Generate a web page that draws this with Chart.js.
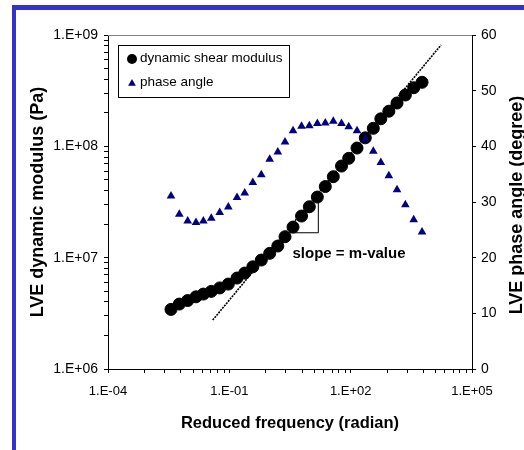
<!DOCTYPE html>
<html>
<head>
<meta charset="utf-8">
<script src="https://cdn.jsdelivr.net/npm/chart.js@4.4.1/dist/chart.umd.min.js"></script>
<style>
  html, body { margin: 0; padding: 0; background: #ffffff; }
  #wrap { width: 524px; height: 450px; }
</style>
</head>
<body>
<div id="wrap"><canvas id="c" width="524" height="450"></canvas></div>
<script>
// ---------------- data ----------------
const frequency = [3.61e-3, 5.79e-3, 9.35e-3, 0.0150, 0.0228, 0.0358, 0.0578, 0.0944,
  0.155, 0.240, 0.381, 0.618, 0.995, 1.58, 2.38, 3.76, 6.10, 9.51, 15.0, 23.6, 37.2,
  59.4, 89.5, 143.5, 230, 363, 557, 879, 1400, 2250, 3620, 5820];
const modulus = [3.43e6, 3.83e6, 4.12e6, 4.45e6, 4.71e6, 4.98e6, 5.35e6, 5.79e6,
  6.56e6, 7.27e6, 8.28e6, 9.52e6, 1.093e7, 1.272e7, 1.541e7, 1.883e7, 2.365e7,
  2.866e7, 3.504e7, 4.353e7, 5.333e7, 6.65e7, 7.80e7, 9.65e7, 1.192e8, 1.451e8,
  1.767e8, 2.068e8, 2.449e8, 2.890e8, 3.361e8, 3.758e8];
const phaseAngle = [31.1, 27.8, 26.6, 26.3, 26.6, 27.1, 28.1, 29.1, 30.8, 31.6, 33.5,
  34.9, 37.7, 39.0, 40.8, 42.8, 43.6, 43.7, 44.1, 44.2, 44.5, 44.1, 43.5, 42.8, 41.3,
  39.1, 37.1, 34.7, 32.2, 29.5, 26.8, 24.6];

// power-law slope line (straight on log-log axes)
const slopeLineFreq = [0.0388, 17140];
const slopeLineModulus = [2.75e6, 8.13e8];
// right-angle "slope" marker
const slopeLegFreq = [2.38, 15.86, 15.86];
const slopeLegModulus = [1.674e7, 1.674e7, 3.82e7];
const slopeLabel = 'slope = m-value';
const slopeLabelAt = [91, 1.077e7];

const seriesNames = ['dynamic shear modulus', 'phase angle'];

// tick values and labels
const xMajorTicks = [1e-4, 1e-1, 1e2, 1e5];
const xMajorLabels = ['1.E-04', '1.E-01', '1.E+02', '1.E+05'];
const xMinorMultipliers = [8, 25, 63, 128, 214, 350, 500, 750];
const yMajorTicks = [1e6, 1e7, 1e8, 1e9];
const yMajorLabels = ['1.E+06', '1.E+07', '1.E+08', '1.E+09'];
const yMinorMultipliers = [2, 3, 4, 5, 6, 7, 8, 9];
const y2Ticks = [0, 10, 20, 30, 40, 50, 60];

const axisTitles = {
  x: 'Reduced frequency (radian)',
  y: 'LVE dynamic modulus (Pa)',
  y2: 'LVE phase angle (degree)'
};

// ---------------- helpers ----------------
function labelFor(value, majors, labels) {
  for (let i = 0; i < majors.length; i++) {
    if (Math.abs(Math.log10(value) - Math.log10(majors[i])) < 1e-6) return labels[i];
  }
  return '';
}
function buildLogTicks(majors, mult) {
  const out = [];
  for (let i = 0; i < majors.length; i++) {
    out.push({ value: majors[i], major: true });
    if (i < majors.length - 1) mult.forEach(m => out.push({ value: majors[i] * m, major: false }));
  }
  return out;
}

const FONT = '"Liberation Sans", Arial, Helvetica, sans-serif';

const framePlugin = {
  id: 'frame',
  beforeDraw(chart) {
    const ctx = chart.ctx;
    ctx.save();
    ctx.fillStyle = '#ffffff';
    ctx.fillRect(0, 0, chart.width, chart.height);
    ctx.fillStyle = '#3333cc';
    ctx.fillRect(12, 5, chart.width - 12, 5);
    ctx.fillRect(12, 5, 4, chart.height - 5);
    ctx.restore();
  },
  afterDatasetsDraw(chart) {
    const ctx = chart.ctx;
    const a = chart.chartArea;
    const xs = chart.scales.x, ys = chart.scales.y;
    ctx.save();
    // plot-area top border (grey)
    ctx.strokeStyle = '#808080';
    ctx.lineWidth = 1;
    ctx.beginPath();
    ctx.moveTo(a.left, a.top + 0.5);
    ctx.lineTo(a.right, a.top + 0.5);
    ctx.stroke();
    // slope annotation text
    ctx.fillStyle = '#000';
    ctx.font = 'bold 15px ' + FONT;
    ctx.textAlign = 'center';
    ctx.textBaseline = 'middle';
    ctx.fillText(slopeLabel, xs.getPixelForValue(slopeLabelAt[0]), ys.getPixelForValue(slopeLabelAt[1]));
    ctx.restore();
  },
  afterDraw(chart) {
    const ctx = chart.ctx;
    const a = chart.chartArea;
    ctx.save();
    // right axis title, reading bottom to top
    ctx.translate(517, (a.top + a.bottom) / 2 + 3);
    ctx.rotate(-Math.PI / 2);
    ctx.font = 'bold 18px ' + FONT;
    ctx.fillStyle = '#000';
    ctx.textAlign = 'center';
    ctx.textBaseline = 'middle';
    ctx.fillText(axisTitles.y2, 0, 0);
    ctx.restore();

    // legend box
    ctx.save();
    const bx = a.left + 10.5, by = a.top + 10.5, bw = 171, bh = 52;
    ctx.fillStyle = '#ffffff';
    ctx.fillRect(bx, by, bw, bh);
    ctx.strokeStyle = '#000';
    ctx.lineWidth = 1;
    ctx.strokeRect(bx, by, bw, bh);
    const ds0 = chart.data.datasets[1]; // modulus
    const ds1 = chart.data.datasets[0]; // phase angle
    // circle marker
    ctx.fillStyle = ds0.backgroundColor;
    ctx.beginPath();
    ctx.arc(bx + 13.5, by + 13.5, 5, 0, Math.PI * 2);
    ctx.fill();
    // triangle marker
    ctx.fillStyle = ds1.backgroundColor;
    const tx = bx + 13.5, ty = by + 38, r = 4.5;
    ctx.beginPath();
    ctx.moveTo(tx, ty - r);
    ctx.lineTo(tx + r * 0.866, ty + r * 0.5);
    ctx.lineTo(tx - r * 0.866, ty + r * 0.5);
    ctx.closePath();
    ctx.fill();
    ctx.fillStyle = '#000';
    ctx.font = '13.5px ' + FONT;
    ctx.textAlign = 'left';
    ctx.textBaseline = 'middle';
    ctx.fillText(seriesNames[0], bx + 21.5, by + 13);
    ctx.fillText(seriesNames[1], bx + 21.5, by + 36.5);
    ctx.restore();
  }
};

const chart = new Chart(document.getElementById('c'), {
  type: 'scatter',
  data: {
    datasets: [
      {
        label: seriesNames[1],
        data: frequency.map((f, i) => ({ x: f, y: phaseAngle[i] })),
        yAxisID: 'y2',
        pointStyle: 'triangle',
        pointRadius: 5,
        borderWidth: 0,
        backgroundColor: '#000080',
        borderColor: '#000080',
        showLine: false
      },
      {
        label: seriesNames[0],
        data: frequency.map((f, i) => ({ x: f, y: modulus[i] })),
        yAxisID: 'y',
        pointStyle: 'circle',
        pointRadius: 6,
        borderWidth: 1,
        backgroundColor: '#000000',
        borderColor: '#000000',
        showLine: false
      },
      {
        label: 'slope line',
        data: slopeLineFreq.map((f, i) => ({ x: f, y: slopeLineModulus[i] })),
        yAxisID: 'y',
        showLine: true,
        pointRadius: 0,
        borderColor: '#000000',
        borderWidth: 1.6,
        borderDash: [2, 1],
        fill: false
      },
      {
        label: 'slope legs',
        data: slopeLegFreq.map((f, i) => ({ x: f, y: slopeLegModulus[i] })),
        yAxisID: 'y',
        showLine: true,
        pointRadius: 0,
        borderColor: '#000000',
        borderWidth: 1,
        fill: false
      }
    ]
  },
  options: {
    responsive: false,
    animation: false,
    devicePixelRatio: 1,
    layout: { padding: { top: 35, left: 0, right: 0, bottom: 0 } },
    plugins: { legend: { display: false }, tooltip: { enabled: false } },
    scales: {
      x: {
        type: 'logarithmic',
        position: 'bottom',
        min: 1e-4, max: 1e5,
        afterBuildTicks: s => { s.ticks = buildLogTicks(xMajorTicks, xMinorMultipliers); },
        afterFit: s => { s.height = 81; },
        ticks: {
          autoSkip: false, maxRotation: 0, minRotation: 0,
          padding: 11,
          color: '#000',
          font: { family: FONT, size: 13 },
          callback: v => labelFor(v, xMajorTicks, xMajorLabels)
        },
        grid: { drawOnChartArea: false, drawTicks: true, tickLength: 4, tickColor: '#000' },
        border: { display: true, color: '#000', width: 1 },
        title: {
          display: true, text: axisTitles.x, color: '#000',
          font: { family: FONT, size: 16.5, weight: 'bold' },
          padding: { top: 0, bottom: 17 }
        }
      },
      y: {
        type: 'logarithmic',
        position: 'left',
        min: 1e6, max: 1e9,
        afterBuildTicks: s => { s.ticks = buildLogTicks(yMajorTicks, yMinorMultipliers); },
        afterFit: s => { s.width = 108; },
        ticks: {
          autoSkip: false,
          padding: 6,
          color: '#000',
          font: { family: FONT, size: 14 },
          callback: v => labelFor(v, yMajorTicks, yMajorLabels)
        },
        grid: { drawOnChartArea: false, drawTicks: true, tickLength: 4, tickColor: '#000' },
        border: { display: true, color: '#000', width: 1 },
        title: {
          display: true, text: axisTitles.y, color: '#000',
          font: { family: FONT, size: 18, weight: 'bold' },
          padding: { top: 27, bottom: 0 }
        }
      },
      y2: {
        type: 'linear',
        position: 'right',
        min: 0, max: 60,
        afterBuildTicks: s => { s.ticks = y2Ticks.map(v => ({ value: v })); },
        afterFit: s => { s.width = 52; },
        ticks: {
          padding: 5,
          color: '#000',
          font: { family: FONT, size: 14 },
          callback: v => String(v)
        },
        grid: { drawOnChartArea: false, drawTicks: true, tickLength: 4, tickColor: '#000' },
        border: { display: true, color: '#000', width: 1 }
      }
    }
  },
  plugins: [framePlugin]
});
</script>
</body>
</html>
